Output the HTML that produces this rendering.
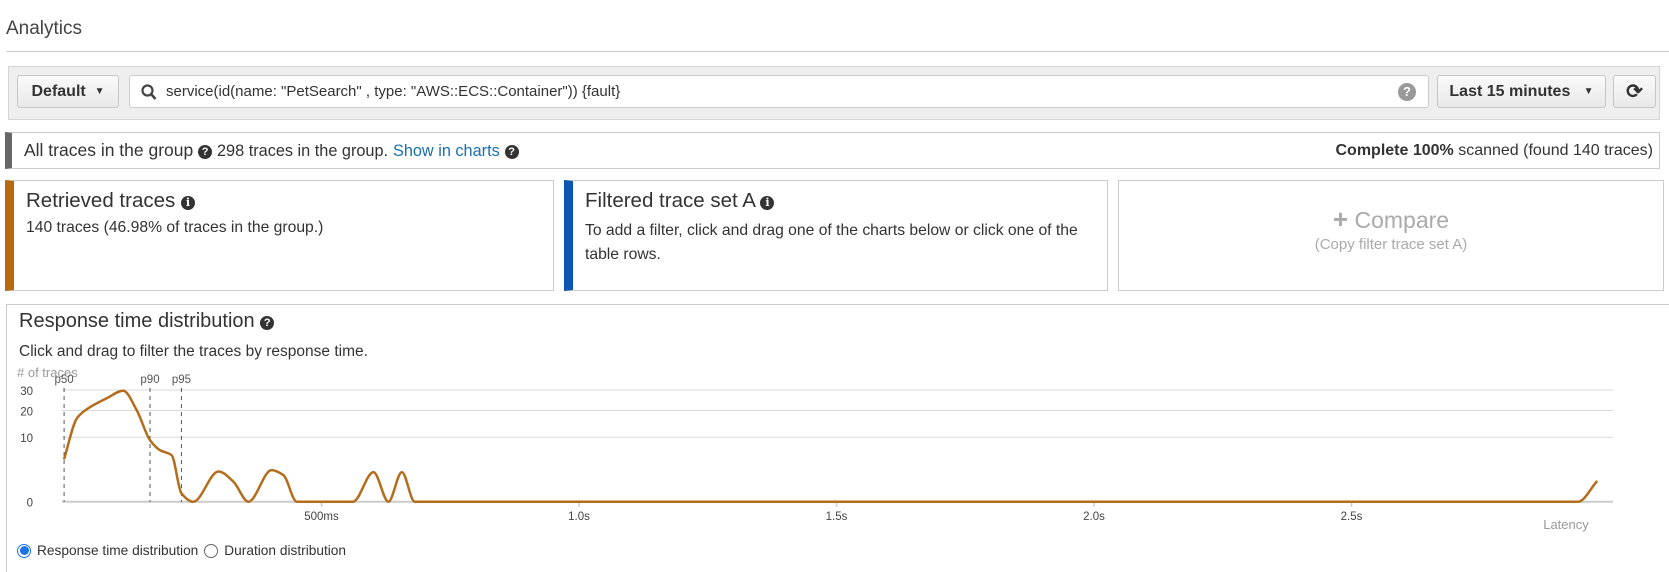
<!DOCTYPE html>
<html style="overflow:hidden;height:572px"><head><meta charset="utf-8"><style>
*{box-sizing:border-box}
body{margin:0;width:1669px;height:572px;background:#fff;font-family:"Liberation Sans",sans-serif;color:#333;overflow:hidden;position:relative}
.abs{position:absolute}
.btn{position:absolute;background:linear-gradient(#fafafa,#e8e8e8);border:1px solid #c6c6c6;border-radius:3px;font-weight:bold;font-size:16px;color:#333;display:flex;align-items:center;justify-content:center}
.q{display:inline-block;width:14px;height:14px;border-radius:50%;background:#333;color:#fff;font-size:11px;font-weight:bold;text-align:center;line-height:14px;vertical-align:1px}
.card{position:absolute;top:180px;height:111px;border:1px solid #ccc;background:#fff}
</style></head><body>
<div class="abs" style="left:6px;top:18px;font-size:19px;color:#444">Analytics</div>
<div class="abs" style="left:6px;top:51px;width:1663px;height:1px;background:#ccc"></div>

<div class="abs" style="left:8px;top:66px;width:1652px;height:54px;background:#eee;border:1px solid #d5d5d5"></div>
<div class="btn" style="left:17px;top:75px;width:102px;height:33px">Default&nbsp;&nbsp;<span style="font-size:10px">▼</span></div>
<div class="abs" style="left:129px;top:75px;width:1300px;height:33px;background:#fff;border:1px solid #ccc;border-radius:3px;font-size:15px;line-height:31px;padding-left:36px;color:#333">service(id(name: "PetSearch" , type: "AWS::ECS::Container")) {fault}
<svg class="abs" style="left:11px;top:8px" width="16" height="17"><circle cx="6.5" cy="6.5" r="5" fill="none" stroke="#444" stroke-width="2.2"/><line x1="10" y1="10" x2="14.5" y2="15" stroke="#444" stroke-width="2.5"/></svg>
<span class="abs" style="right:12px;top:7px;width:18px;height:18px;border-radius:50%;background:#999;color:#fff;font-size:13px;font-weight:bold;text-align:center;line-height:18px">?</span></div>
<div class="btn" style="left:1437px;top:75px;width:169px;height:33px">Last 15 minutes&nbsp;&nbsp;&nbsp;<span style="font-size:10px">▼</span></div>
<div class="btn" style="left:1613px;top:75px;width:43px;height:33px;font-size:20px">⟳</div>

<div class="abs" style="left:5px;top:132px;width:1655px;height:37px;border:1px solid #ccc;border-left:7px solid #666;font-size:17.5px;line-height:35px;padding-left:12px;color:#333">All traces in the group <span class="q">?</span> <span style="font-size:16.3px">298 traces in the group.</span> <span style="color:#1a6fb0;font-size:16.3px">Show in charts</span> <span class="q">?</span>
<span class="abs" style="right:6px;top:0;font-size:16px"><b>Complete 100%</b> scanned (found 140 traces)</span></div>

<div class="card" style="left:5px;width:549px;border-left:9px solid #b8690f;padding:8px 12px">
<div style="font-size:20.5px;color:#333">Retrieved traces <span class="q" style="font-family:'DejaVu Serif',serif">i</span></div>
<div style="font-size:15.7px;margin-top:6px">140 traces (46.98% of traces in the group.)</div></div>
<div class="card" style="left:564px;width:544px;border-left:9px solid #0b55b5;padding:8px 12px">
<div style="font-size:20.5px;color:#333">Filtered trace set A <span class="q" style="font-family:'DejaVu Serif',serif">i</span></div>
<div style="font-size:15.7px;margin-top:6px;line-height:24px;width:500px">To add a filter, click and drag one of the charts below or click one of the table rows.</div></div>
<div class="card" style="left:1118px;width:546px;text-align:center;color:#aaa;padding-top:23px">
<div style="font-size:23px"><b style="font-size:26px">+</b> Compare</div>
<div style="font-size:15px;margin-top:1px">(Copy filter trace set A)</div></div>

<div class="abs" style="left:6px;top:304px;width:1663px;height:268px;border:1px solid #ccc;border-bottom:none;border-right:none"></div>
<div class="abs" style="left:19px;top:310px;font-size:20px;color:#333">Response time distribution <span class="q">?</span></div>
<div class="abs" style="left:19px;top:343px;font-size:15.5px;color:#333">Click and drag to filter the traces by response time.</div>

<svg class="abs" style="left:0;top:0" width="1669" height="572" id="chart"></svg>

<div class="abs" style="left:17px;top:543px;font-size:13.7px;color:#333;display:flex;align-items:center">
<span style="width:14px;height:14px;border-radius:50%;border:1px solid #1a73e8;display:inline-flex;align-items:center;justify-content:center;margin-right:6px"><span style="width:9px;height:9px;border-radius:50%;background:#1a73e8"></span></span>Response time distribution
<span style="width:14px;height:14px;border-radius:50%;border:1px solid #666;display:inline-block;margin:0 6px 0 6px"></span>Duration distribution</div>

<script>
const latencyMs = [0, 25, 44, 83, 115, 141, 167, 186, 209, 228, 251, 300, 329, 358, 403, 426, 452, 523, 561, 601, 630, 656, 681, 720, 1500, 2500, 2940, 2977];
const traceCounts = [4.3, 16.7, 20.5, 25.7, 29.6, 20.2, 9.1, 6.4, 5.2, 0.17, 0, 2.2, 0.96, 0, 2.4, 1.7, 0, 0, 0, 2.1, 0, 2.1, 0, 0, 0, 0, 0, 1.03];
const yTicks = [0, 10, 20, 30];
const xTickValues = [500, 1000, 1500, 2000, 2500];
const xTickLabels = ["500ms", "1.0s", "1.5s", "2.0s", "2.5s"];
const percentileNames = ["p50", "p90", "p95"];
const percentileMs = [6, 167, 228];

const NS = "http://www.w3.org/2000/svg";
const svg = document.getElementById('chart');
const X0 = 64, PXMS = 0.515, Y0 = 501.7, K = 20.4, XEND = 1613;
const x = ms => X0 + PXMS * ms;
const y = v => Y0 - K * Math.sqrt(Math.max(0, v));
function mk(tag, attrs, txt){const e=document.createElementNS(NS,tag);for(const k in attrs)e.setAttribute(k,attrs[k]);if(txt!=null)e.textContent=txt;svg.appendChild(e);return e;}

yTicks.forEach(t=>{
  const g = mk('line',{x1:62,x2:XEND,y1:y(t),y2:y(t),stroke:t===0?'#ccc':'#d9d9d9','stroke-width':t===0?2:1});
  
  
  const l = mk('text',{x:33,y:y(t)+5,'text-anchor':'end','font-size':11.5,fill:'#444','font-family':'Liberation Sans'},String(t));
  
  
});
const yt = mk('text',{x:17,y:377,'font-size':13,fill:'#999','font-family':'Liberation Sans'},'# of traces');



xTickValues.forEach((v,i)=>{
  const t = mk('line',{x1:x(v),x2:x(v),y1:Y0,y2:Y0+5,stroke:'#ccc','stroke-width':1.5});
  
  
  const l = mk('text',{x:x(v),y:520,'text-anchor':'middle','font-size':11.5,fill:'#444','font-family':'Liberation Sans'},xTickLabels[i]);
  
  
});
const xt = mk('text',{x:1566,y:529,'text-anchor':'middle','font-size':13,fill:'#999','font-family':'Liberation Sans'},'Latency');



percentileMs.forEach((v,i)=>{
  const px = x(v)+(i===0?-3:0);
  const l = mk('line',{x1:px,x2:px,y1:388,y2:Y0,stroke:'#555','stroke-dasharray':'4,4','stroke-width':1});
  
  
  const t = mk('text',{x:px,y:383,'text-anchor':'middle','font-size':11.5,fill:'#555','font-family':'Liberation Sans'},percentileNames[i]);
  
  
});

// monotone cubic interpolation
const pts = latencyMs.map((m,i)=>[x(m), y(traceCounts[i])]);
const n = pts.length;
const dx = [], sl = [];
for(let i=0;i<n-1;i++){dx.push(pts[i+1][0]-pts[i][0]); sl.push((pts[i+1][1]-pts[i][1])/dx[i]);}
const m = [];
for(let i=0;i<n;i++){
  if(i===0) m.push(sl[0]);
  else if(i===n-1) m.push(sl[n-2]);
  else if(sl[i-1]*sl[i]<=0) m.push(0);
  else { const w1=2*dx[i]+dx[i-1], w2=dx[i]+2*dx[i-1]; m.push((w1+w2)/(w1/sl[i-1]+w2/sl[i])); }
}
let d = `M${pts[0][0]},${pts[0][1]}`;
for(let i=0;i<n-1;i++){
  const h=dx[i]/3;
  d+=` C${pts[i][0]+h},${pts[i][1]+m[i]*h} ${pts[i+1][0]-h},${pts[i+1][1]-m[i+1]*h} ${pts[i+1][0]},${pts[i+1][1]}`;
}
const path = mk('path',{d:d,fill:'none',stroke:'#b36d1c','stroke-width':2.5,'stroke-linejoin':'round'});


</script>
</body></html>
